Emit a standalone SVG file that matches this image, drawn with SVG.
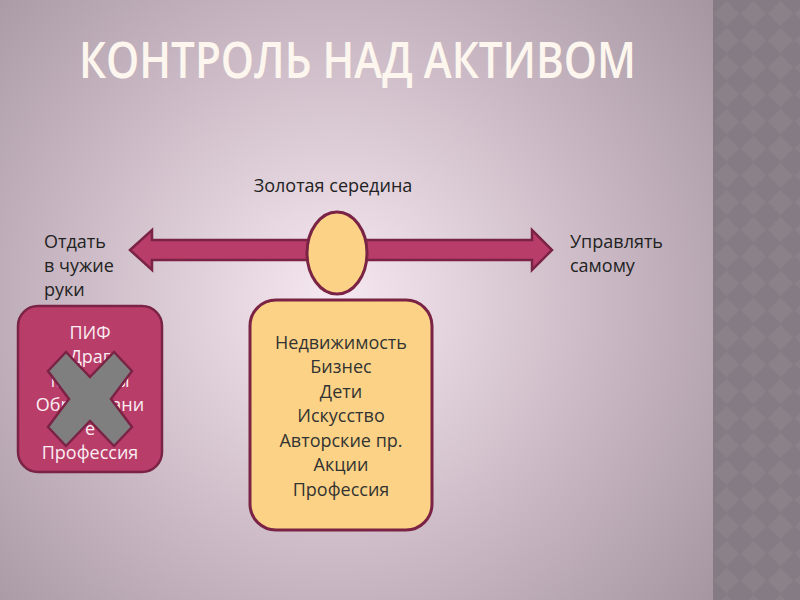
<svg xmlns="http://www.w3.org/2000/svg" width="800" height="600" viewBox="0 0 800 600">
<defs>
<radialGradient id="bg" cx="335" cy="300" r="480" gradientUnits="userSpaceOnUse">
<stop offset="0" stop-color="#f6e8f1"/>
<stop offset="0.55" stop-color="#cbbac5"/>
<stop offset="1" stop-color="#a596a1"/>
</radialGradient>
<pattern id="diam" x="713" y="0" width="27" height="27" patternUnits="userSpaceOnUse">
<rect width="27" height="27" fill="#857b84"/>
<polygon points="13.5,1 26,13.5 13.5,26 1,13.5" fill="#8b8189"/>
</pattern>
<style>
.t{font-family:"Open Sans","DejaVu Sans",sans-serif;font-size:18px;}
.lbl{fill:#222;}
.pink{fill:#b93d69;stroke:#7a2345;stroke-width:2.5;}
.gold{fill:#fcd386;stroke:#7a2345;stroke-width:3;}
</style>
</defs>
<rect width="800" height="600" fill="url(#bg)"/>
<rect x="713" y="0" width="87" height="600" fill="url(#diam)"/>
<text x="79" y="78" font-family="'Open Sans','DejaVu Sans',sans-serif" font-size="50" font-weight="600" fill="#fdf6ee" textLength="557" lengthAdjust="spacingAndGlyphs">КОНТРОЛЬ НАД АКТИВОМ</text>

<g id="labels" class="t lbl">
<text x="333" y="192" text-anchor="middle">Золотая середина</text>
<text x="44" y="248">Отдать</text>
<text x="44" y="272">в чужие</text>
<text x="44" y="296">руки</text>
<text x="570" y="248">Управлять</text>
<text x="570" y="272">самому</text>
</g>

<g id="connectors">
<polygon class="pink" points="130,250 152,230 152,240 532,240 532,230 552,250 532,270 532,260 152,260 152,270"/>
</g>

<g id="head">
<ellipse class="gold" cx="337" cy="253" rx="30" ry="41"/>
</g>

<g id="body">
<rect class="gold" x="250" y="300" width="182" height="230" rx="26"/>
<g class="t" fill="#333" text-anchor="middle">
<text x="341" y="349">Недвижимость</text>
<text x="341" y="373">Бизнес</text>
<text x="341" y="398">Дети</text>
<text x="341" y="422">Искусство</text>
<text x="341" y="447">Авторские пр.</text>
<text x="341" y="471">Акции</text>
<text x="341" y="496">Профессия</text>
</g>
</g>

<g id="left-box">
<rect class="pink" x="18" y="306" width="144" height="166" rx="20"/>
<g class="t" fill="#faeef3" text-anchor="middle">
<text x="90" y="339">ПИФ</text>
<text x="90" y="363">Драг</text>
<text x="90" y="387">Металлы</text>
<text x="90" y="411">Образовани</text>
<text x="90" y="435">е</text>
<text x="90" y="459">Профессия</text>
</g>
</g>

<g id="cross">
<polygon points="48,371 66,352 90,377 114,352 132,371 111,399 132,427 114,446 90,421 66,446 48,427 69,399" fill="#7f7f7f" stroke="#7a2345" stroke-width="2.5"/>
</g>
</svg>
